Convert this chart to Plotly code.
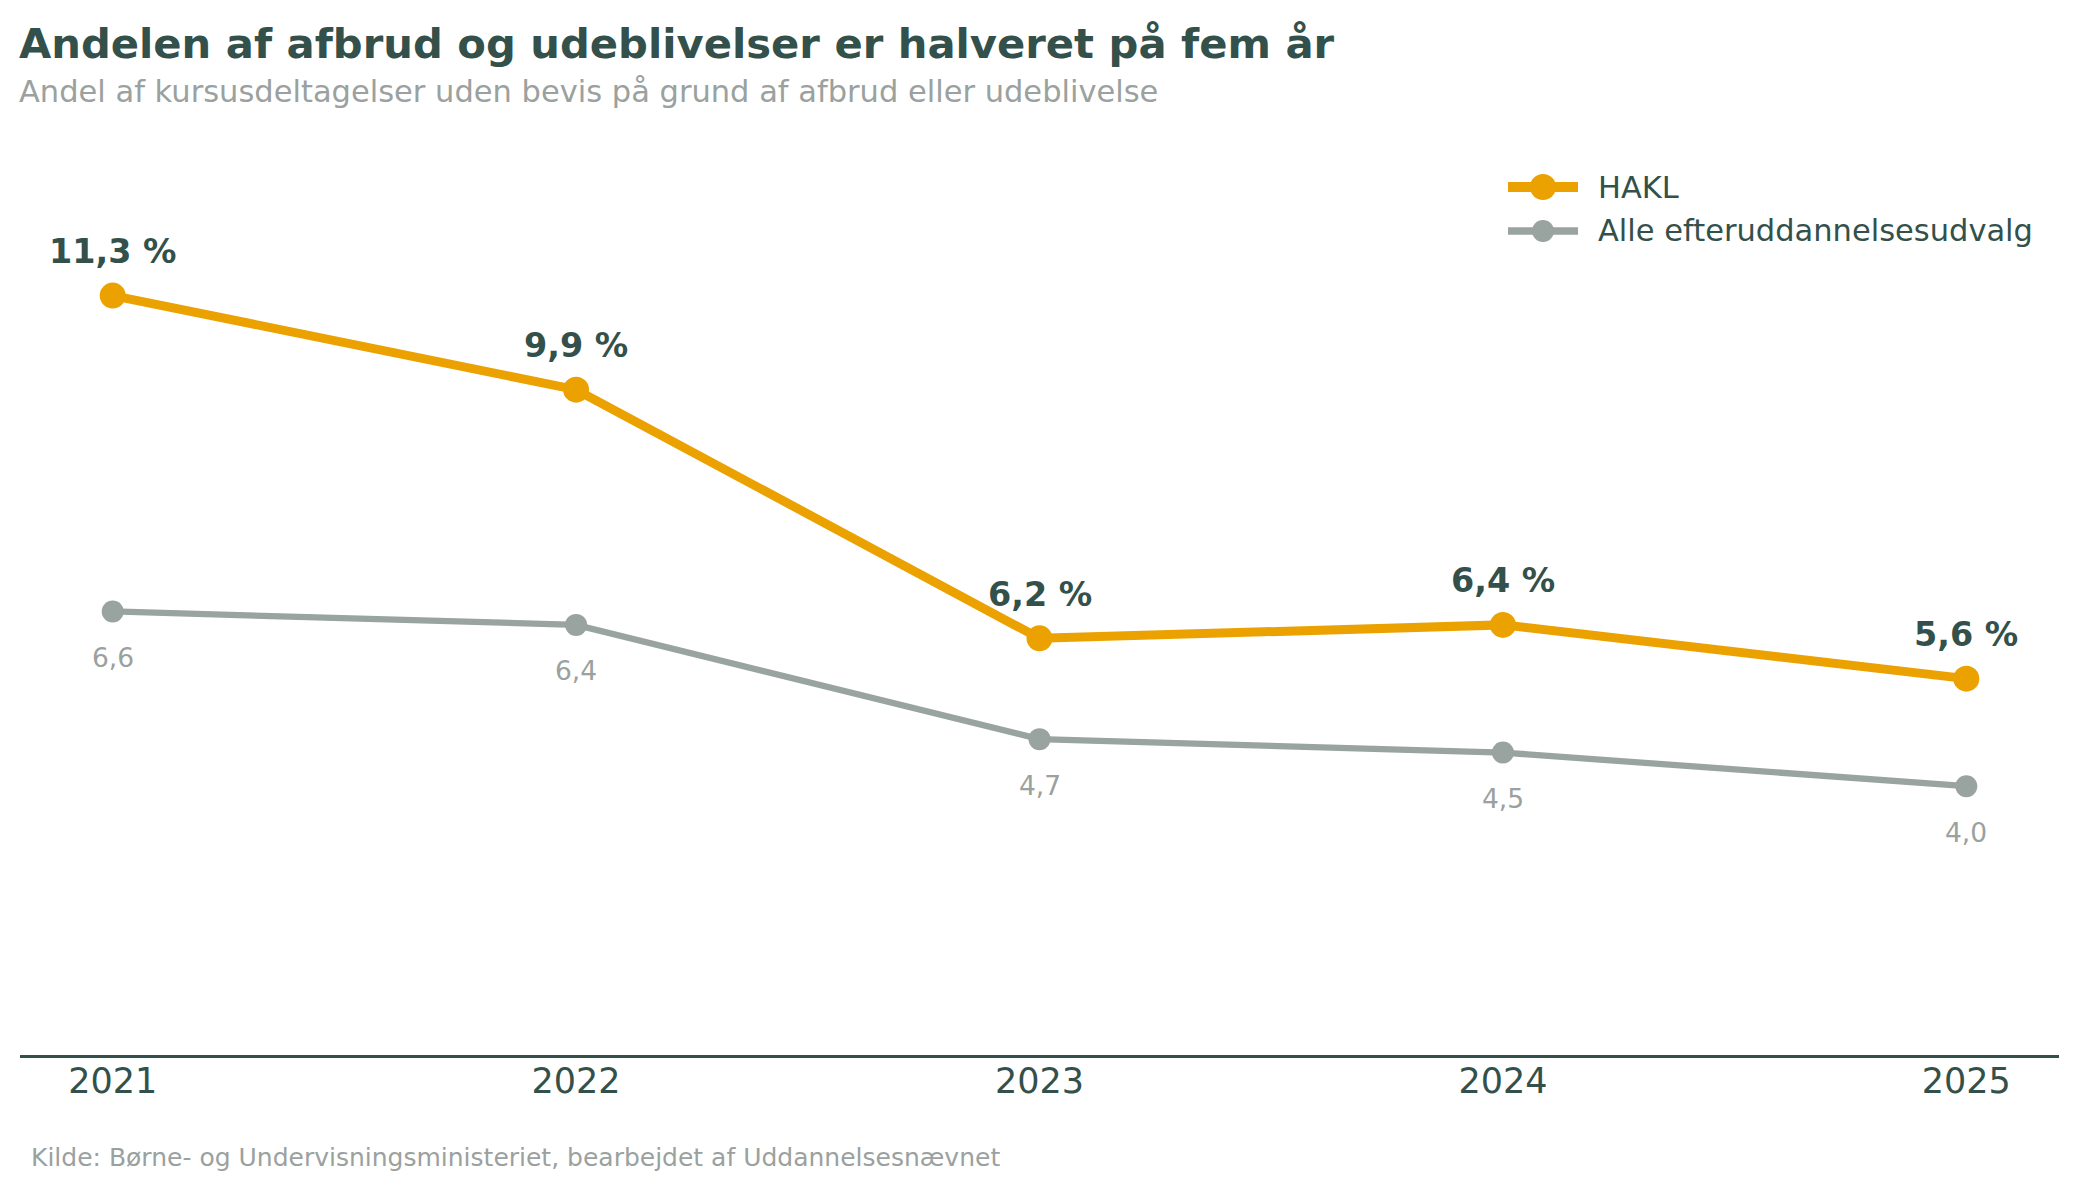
import plotly.graph_objects as go

years = [2021, 2022, 2023, 2024, 2025]
hakl = [11.3, 9.9, 6.2, 6.4, 5.6]
alle = [6.6, 6.4, 4.7, 4.5, 4.0]
series_names = ["HAKL", "Alle efteruddannelsesudvalg"]

title_text = "Andelen af afbrud og udeblivelser er halveret på fem år"
subtitle_text = "Andel af kursusdeltagelser uden bevis på grund af afbrud eller udeblivelse"
source_text = "Kilde: Børne- og Undervisningsministeriet, bearbejdet af Uddannelsesnævnet"

ORANGE = "#EBA200"
GRAY = "#99A39F"
DARK = "#33504B"
LIGHT = "#9AA19E"
FONT = "DejaVu Sans"

W, H = 2079, 1191
ML, MR, MT, MB = 20, 20, 141, 136
PW, PH = W - ML - MR, H - MT - MB

def px_x(p):
    return (p - ML) / PW

def px_y(p):
    return (H - MB - p) / PH

def fmt(v):
    return f"{v:.1f}".replace(".", ",")

styles = [
    dict(color=ORANGE, width=9, size=26),
    dict(color=GRAY, width=6.3, size=22),
]

fig = go.Figure()
for name, vals, st in zip(series_names, [hakl, alle], styles):
    fig.add_trace(go.Scatter(
        x=years, y=vals, name=name, mode="lines+markers", showlegend=False,
        line=dict(color=st["color"], width=st["width"]),
        marker=dict(color=st["color"], size=st["size"]),
    ))

annotations = []
for x, v in zip(years, hakl):
    annotations.append(dict(x=x, y=v, xref="x", yref="y", text=f"<b>{fmt(v)} %</b>",
                            showarrow=False, yshift=44, yanchor="middle",
                            font=dict(family=FONT, size=33.4, color=DARK)))
for x, v in zip(years, alle):
    annotations.append(dict(x=x, y=v, xref="x", yref="y", text=fmt(v),
                            showarrow=False, yshift=-46, yanchor="middle",
                            font=dict(family=FONT, size=26.5, color=LIGHT)))

# title, subtitle, source
annotations.append(dict(x=0, y=1, xref="paper", yref="paper", xanchor="left", yanchor="middle",
                        xshift=-3, yshift=MT - 43, text=f"<b>{title_text}</b>", showarrow=False,
                        font=dict(family=FONT, size=41.7, color=DARK)))
annotations.append(dict(x=0, y=1, xref="paper", yref="paper", xanchor="left", yanchor="middle",
                        xshift=-3, yshift=MT - 91, text=subtitle_text, showarrow=False,
                        font=dict(family=FONT, size=30.5, color=LIGHT)))
annotations.append(dict(x=0, y=0, xref="paper", yref="paper", xanchor="left", yanchor="middle",
                        xshift=9, yshift=-102, text=source_text, showarrow=False,
                        font=dict(family=FONT, size=25, color=LIGHT)))

# custom legend (line + marker + label)
shapes = []
legend_rows = [187, 231]
for name, st, row in zip(series_names, styles, legend_rows):
    shapes.append(dict(type="line", xref="paper", yref="paper",
                       x0=px_x(1508), x1=px_x(1578), y0=px_y(row), y1=px_y(row),
                       line=dict(color=st["color"], width=st["width"] + 1)))
    r = st["size"] / 2
    shapes.append(dict(type="circle", xref="paper", yref="paper",
                       xsizemode="pixel", ysizemode="pixel",
                       xanchor=px_x(1543), yanchor=px_y(row),
                       x0=-r, x1=r, y0=-r, y1=r,
                       fillcolor=st["color"], line=dict(width=0)))
    annotations.append(dict(x=px_x(1596), y=px_y(row), xref="paper", yref="paper",
                            xanchor="left", yanchor="middle", text=name, showarrow=False,
                            font=dict(family=FONT, size=30.5, color=DARK)))

fig.update_layout(
    width=W, height=H,
    margin=dict(l=ML, r=MR, t=MT, b=MB),
    paper_bgcolor="white", plot_bgcolor="white",
    font=dict(family=FONT, color=DARK),
    showlegend=False,
    annotations=annotations,
    shapes=shapes,
    xaxis=dict(range=[2020.8, 2025.2], tickmode="array", tickvals=years,
               ticktext=[str(y) for y in years], showgrid=False, zeroline=False,
               showline=True, linecolor=DARK, linewidth=2.5, ticks="",
               ticklabelstandoff=-7,
               tickfont=dict(family=FONT, size=35, color=DARK)),
    yaxis=dict(range=[0, 13.6], visible=False, showgrid=False, zeroline=False),
)

fig.write_html("out.html")
